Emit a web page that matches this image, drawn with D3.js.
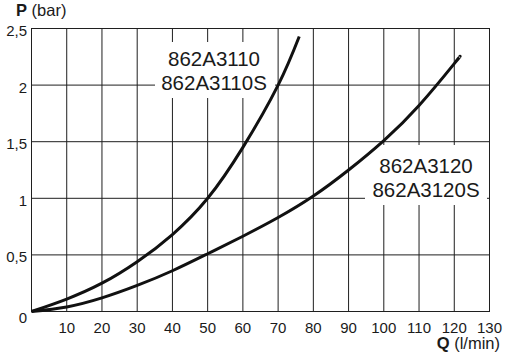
<!DOCTYPE html>
<html><head><meta charset="utf-8">
<script src="https://cdn.jsdelivr.net/npm/d3@7"></script>
<style>body{margin:0;background:#fff}svg{display:block}text{font-family:"Liberation Sans",Arial,sans-serif;fill:#1a1a1a}</style>
</head><body><svg id="c" width="511" height="357"></svg>
<script>
const xTicks = [10,20,30,40,50,60,70,80,90,100,110,120,130];
const yTicks = [0,0.5,1,1.5,2,2.5];
const yTickLabels = ["0","0,5","1","1,5","2","2,5"];
const seriesNames = [["862A3110","862A3110S"],["862A3120","862A3120S"]];
const q3110 = [0,10,20,30,40,50,60,70,76];
const p3110 = [0,0.11,0.25,0.44,0.68,1.0,1.45,2.0,2.43];
const q3120 = [0,10,20,30,40,50,60,70,80,90,100,110,120,121.5];
const p3120 = [0,0.04,0.12,0.23,0.36,0.51,0.665,0.83,1.02,1.25,1.51,1.82,2.19,2.25];

const svg = d3.select("#c");
const x = d3.scaleLinear().domain([0,130]).range([31.5,489.5]);
const y = d3.scaleLinear().domain([0,2.5]).range([311.5,28.5]);
const gc = "#1f1f1f";

const g = svg.append("g");
// grid
g.selectAll("line.v").data(xTicks.slice(0,-1)).enter().append("line")
  .attr("x1",d=>x(d)).attr("x2",d=>x(d)).attr("y1",y(0)).attr("y2",y(2.5))
  .attr("stroke",gc).attr("stroke-width",1);
g.selectAll("line.h").data(yTicks.slice(1,-1)).enter().append("line")
  .attr("x1",x(0)).attr("x2",x(130)).attr("y1",d=>y(d)).attr("y2",d=>y(d))
  .attr("stroke",gc).attr("stroke-width",1);

// label backgrounds
g.append("rect").attr("x",155).attr("y",42).attr("width",120).attr("height",56).attr("fill","#fff");
g.append("rect").attr("x",365).attr("y",145).attr("width",122).attr("height",60).attr("fill","#fff");

// frame
g.append("rect").attr("x",x(0)).attr("y",y(2.5)).attr("width",x(130)-x(0)).attr("height",y(0)-y(2.5))
  .attr("fill","none").attr("stroke",gc).attr("stroke-width",1);

// curves
const line = d3.line().x(d=>x(d[0])).y(d=>y(d[1])).curve(d3.curveNatural);
[[q3110,p3110],[q3120,p3120]].forEach(([qs,ps])=>{
  g.append("path").datum(qs.map((q,i)=>[q,ps[i]])).attr("d",line)
   .attr("fill","none").attr("stroke","#111").attr("stroke-width",3).attr("stroke-linecap","butt");
});

// axis tick labels
g.selectAll("text.xt").data(xTicks).enter().append("text")
  .attr("x",d=>x(d)).attr("y",332.5).attr("text-anchor","middle").attr("font-size",15).text(d=>d);
g.selectAll("text.yt").data(yTicks).enter().append("text")
  .attr("x",27).attr("y",d=>d===0?322.5:y(d)+7.5).attr("text-anchor","end").attr("font-size",15)
  .text((d,i)=>yTickLabels[i]);

// axis titles
const pt = g.append("text").attr("x",16).attr("y",16).attr("font-size",16.5);
pt.append("tspan").attr("font-weight","bold").text("P");
pt.append("tspan").text(" (bar)");
const qt = g.append("text").attr("x",500).attr("y",349).attr("font-size",16.5).attr("text-anchor","end");
qt.append("tspan").attr("font-weight","bold").text("Q");
qt.append("tspan").text(" (l/min)");

// series labels
const labPos = [[214,66,90],[426,173,197]];
seriesNames.forEach((names,i)=>{
  names.forEach((n,j)=>{
    g.append("text").attr("x",labPos[i][0]).attr("y",labPos[i][1+j]).attr("text-anchor","middle")
      .attr("font-size",20.5).text(n);
  });
});
</script></body></html>
